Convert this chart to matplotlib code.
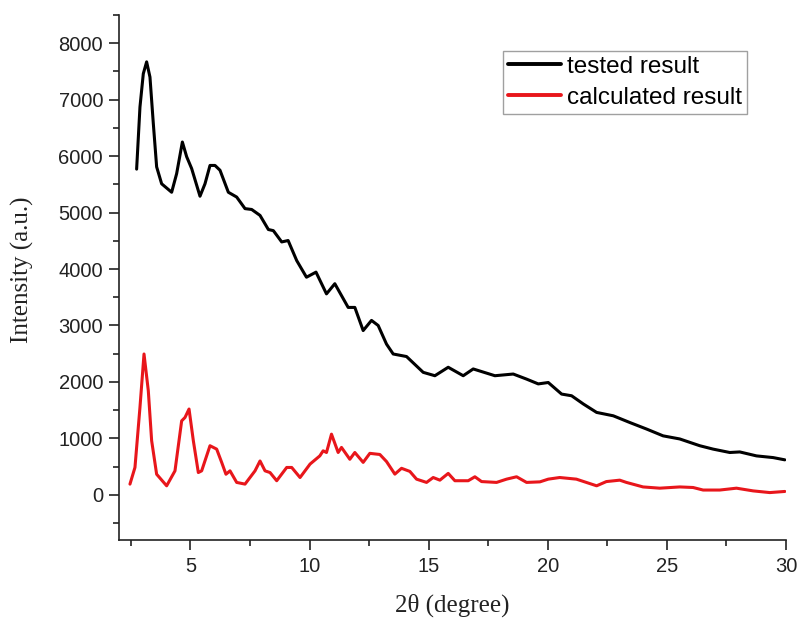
import matplotlib
matplotlib.use('Agg')
import matplotlib.pyplot as plt
from matplotlib.ticker import MultipleLocator

# 2theta (degree) / intensity
tested_x = [2.74, 2.88, 3.02, 3.16, 3.30, 3.44, 3.58, 3.79, 4.21, 4.42, 4.66, 4.84, 5.05,
            5.40, 5.61, 5.82, 6.03, 6.24, 6.59, 6.94, 7.29, 7.57, 7.92, 8.27, 8.48, 8.83,
            9.10, 9.46, 9.87, 10.27, 10.71, 11.06, 11.62, 11.90, 12.25, 12.60, 12.88, 13.23,
            13.51, 14.07, 14.77, 15.26, 15.82, 16.45, 16.87, 17.78, 18.55, 19.11, 19.60,
            20.02, 20.58, 21.00, 21.49, 22.05, 22.75, 23.45, 24.15, 24.84, 25.54, 26.38,
            26.94, 27.64, 28.06, 28.76, 29.46, 29.95]
tested_y = [5770, 6870, 7460, 7670, 7400, 6580, 5810, 5510, 5360, 5690, 6250, 5990, 5780,
            5290, 5510, 5835, 5835, 5750, 5360, 5275, 5070, 5055, 4950, 4700, 4680, 4480,
            4505, 4150, 3855, 3945, 3560, 3740, 3320, 3320, 2910, 3090, 3000, 2670,
            2495, 2450, 2170, 2110, 2260, 2110, 2230, 2110, 2140, 2050, 1965,
            1990, 1785, 1755, 1610, 1460, 1400, 1280, 1165, 1045, 990, 870,
            810, 750, 760, 690, 660, 620]

calc_x = [2.46, 2.67, 2.88, 3.05, 3.23, 3.37, 3.58, 4.00, 4.35, 4.63, 4.77, 4.94,
          5.12, 5.33, 5.47, 5.82, 6.10, 6.31, 6.49, 6.66, 6.94, 7.29, 7.71, 7.92, 8.13,
          8.34, 8.62, 9.04, 9.25, 9.60, 10.02, 10.43, 10.57, 10.71, 10.92, 11.20, 11.34,
          11.69, 11.90, 12.25, 12.53, 12.95, 13.23, 13.58, 13.86, 14.21, 14.49, 14.91,
          15.19, 15.47, 15.82, 16.10, 16.66, 16.94, 17.22, 17.85, 18.27, 18.69, 19.11,
          19.67, 20.02, 20.50, 21.20, 22.05, 22.46, 23.02, 23.30, 24.00, 24.70, 25.54,
          26.10, 26.52, 27.22, 27.92, 28.62, 29.32, 29.95]
calc_y = [190, 485, 1550, 2495, 1845, 960, 365, 160, 425, 1310, 1370, 1520,
          960, 395, 425, 870, 810, 575, 365, 425, 220, 190, 425, 600, 425,
          395, 250, 485, 485, 307, 545, 690, 780, 750, 1075, 750, 840,
          630, 750, 575, 735, 715, 590, 367, 470, 415, 278, 220,
          307, 260, 380, 250, 250, 320, 235, 220, 278, 320, 220,
          230, 278, 307, 278, 160, 235, 260, 220, 140, 118, 140,
          130, 85, 85, 118, 70, 40, 60]

x_ticks = [5, 10, 15, 20, 25, 30]
y_ticks = [0, 1000, 2000, 3000, 4000, 5000, 6000, 7000, 8000]

fig = plt.figure(figsize=(8.01, 6.22), dpi=100)
ax = fig.add_axes([119 / 801, 1 - 540 / 622, 667 / 801, 525 / 622])

ax.plot(tested_x, tested_y, color='black', lw=2.2, label='tested result',
        solid_joinstyle='round', solid_capstyle='round')
ax.plot(calc_x, calc_y, color='#e8161b', lw=2.2, label='calculated result',
        solid_joinstyle='round', solid_capstyle='round')

ax.set_xlim(2, 30)
ax.set_ylim(-800, 8500)
ax.set_xticks(x_ticks)
ax.set_yticks(y_ticks)
ax.xaxis.set_minor_locator(MultipleLocator(2.5))
ax.yaxis.set_minor_locator(MultipleLocator(500))

for s in ['top', 'right']:
    ax.spines[s].set_visible(False)
for s in ['left', 'bottom']:
    ax.spines[s].set_linewidth(1.2)
    ax.spines[s].set_color('#222222')

ax.tick_params(which='major', length=7.5, width=1.2, color='#222222', labelsize=14.5)
ax.tick_params(which='minor', length=4.5, width=1.2, color='#222222')
ax.tick_params(axis='x', which='major', pad=4.5)
ax.tick_params(axis='y', which='major', pad=4)
for lbl in ax.get_xticklabels() + ax.get_yticklabels():
    lbl.set_family('Liberation Sans')
    lbl.set_color('#222222')

ax.set_xlabel('2θ (degree)', family='Liberation Serif', fontsize=18, color='#222222')
ax.set_ylabel('Intensity (a.u.)', family='Liberation Serif', fontsize=18, color='#222222')
ax.xaxis.label.set_va('center')
ax.yaxis.label.set_va('center')
ax.xaxis.set_label_coords(0.5, -0.124)
ax.yaxis.set_label_coords(-0.145, 0.514)

leg = ax.legend(loc='upper left', bbox_to_anchor=(503 / 801, 1 - 51 / 622),
                bbox_transform=fig.transFigure, borderaxespad=0,
                prop={'family': 'Liberation Sans', 'size': 17.5},
                fancybox=False, frameon=True, handlelength=2.18,
                handletextpad=0.25, borderpad=0.2, labelspacing=0.37)
leg.get_frame().set_edgecolor('#888888')
leg.get_frame().set_linewidth(1.0)
for line in leg.get_lines():
    line.set_linewidth(2.8)

fig.savefig('out.png', dpi=100)
